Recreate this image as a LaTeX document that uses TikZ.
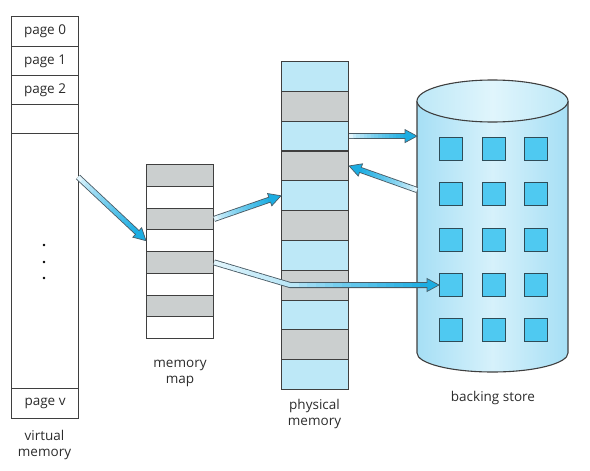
\documentclass[tikz,border=0pt]{standalone}
\usepackage{fontspec}
\setmainfont{Open Sans}
\usetikzlibrary{calc}
\definecolor{cellgray}{HTML}{CBCFCF}
\definecolor{cellblue}{HTML}{BDE8F7}
\definecolor{edge}{HTML}{3F3F3F}
\definecolor{txt}{HTML}{2B2B2B}
\definecolor{arrowline}{HTML}{4A5C66}
\definecolor{arrowblue}{HTML}{1CADE2}
\definecolor{arrowpale}{HTML}{E2F5FC}
\definecolor{cylA}{HTML}{A6DFF5}
\definecolor{cylB}{HTML}{D6F1FB}
\definecolor{cyltopA}{HTML}{BDE8F7}
\definecolor{cyltopB}{HTML}{E0F5FC}
\definecolor{sqfill}{HTML}{4FC9F1}
\definecolor{sqedge}{HTML}{2E4C58}
\newcommand\fatbody[4]{%
  \foreach \i in {0,...,15}{%
    \pgfmathsetmacro\ta{\i/16}%
    \pgfmathsetmacro\tb{min(1,(\i+1.3)/16)}%
    \pgfmathtruncatemacro\pc{#3+(#4-#3)*(\i/15)^0.75}%
    \draw[line width=4.2pt, arrowblue!\pc!arrowpale] ($(#1)!\ta!(#2)$) -- ($(#1)!\tb!(#2)$);
  }}
\newcommand\fathead[2]{% #1 head base, #2 tip
  \draw[fill=arrowblue, draw=arrowline, line width=0.7pt, line join=miter]
    (#2) -- ($(#1)!6.5pt!90:(#2)$) -- ($(#1)!6.5pt!-90:(#2)$) -- cycle;}
\newcommand\fatarrow[3]{% #1 from, #2 tip, #3 start pct
  \path ($(#2)!12pt!(#1)$) coordinate (hb) ($(#2)!10pt!(#1)$) coordinate (be);
  \draw[line width=6pt, arrowline] (#1) -- (hb);
  \fathead{hb}{#2}
  \fatbody{#1}{be}{#3}{100}}
\begin{document}
\begin{tikzpicture}[x=1pt,y=-1pt,
  every node/.style={text=txt},
  cell/.style={draw=edge, line width=1.1pt, minimum width=67pt, inner sep=0pt,
    anchor=north west, font=\fontsize{13.5}{15}\selectfont},
  vmcell/.style={cell, fill=white},
  graycell/.style={cell, fill=cellgray},
  whitecell/.style={cell, fill=white},
  bluecell/.style={cell, fill=cellblue},
  label/.style={font=\fontsize{13.5}{16}\selectfont, align=center, inner sep=0pt},
  sq/.style={draw=sqedge, line width=1pt, fill=sqfill, minimum size=23pt, inner sep=0pt, anchor=north west},
  dot/.style={circle, fill=black, minimum size=2.8pt, inner sep=0pt}]
\useasboundingbox (0,0) rectangle (590,471);
% virtual memory
\node[vmcell, minimum height=30pt] (vm0) at (11,16) {page 0};
\node[vmcell, minimum height=29pt] (vm1) at (11,46) {page 1};
\node[vmcell, minimum height=29pt] (vm2) at (11,75) {page 2};
\node[vmcell, minimum height=29pt] (vm3) at (11,104) {};
\node[vmcell, minimum height=255pt] (vmbody) at (11,133) {};
\node[vmcell, minimum height=30pt] (vmv) at (11,388) {page v};
\node[dot] (d1) at (44,245) {};
\node[dot] (d2) at (44,262) {};
\node[dot] (d3) at (44,278) {};
\node[label] (vmlab) at (44.5,445) {virtual\\memory};
% memory map
\foreach \k in {1,...,8}{
  \pgfmathsetmacro\yy{164+(\k-1)*21.75}
  \ifodd\k
    \node[graycell, minimum height=21.75pt] (mm\k) at (146,\yy) {};
  \else
    \node[whitecell, minimum height=21.75pt] (mm\k) at (146,\yy) {};
  \fi
}
\node[label] (mmlab) at (180,373) {memory\\map};
% physical memory
\foreach \k in {1,...,11}{
  \pgfmathsetmacro\yy{61+(\k-1)*29.82}
  \ifodd\k
    \node[bluecell, minimum height=29.82pt] (pm\k) at (281,\yy) {};
  \else
    \node[graycell, minimum height=29.82pt] (pm\k) at (281,\yy) {};
  \fi
}
\node[label] (pmlab) at (314.5,414) {physical\\memory};
% backing store
\node[minimum width=151pt, minimum height=252pt, inner sep=0pt, anchor=north west] (store) at (417,101) {};
\path[left color=cylA, right color=cylA, middle color=cylB]
  (417,101) -- (417,353) arc[start angle=180, end angle=360, x radius=75.5pt, y radius=19pt] -- (568,101) -- cycle;
\draw[edge, line width=1.1pt] (417,101) -- (417,353) arc[start angle=180, end angle=360, x radius=75.5pt, y radius=19pt] -- (568,101);
\draw[edge, line width=1.1pt, left color=cyltopA, right color=cyltopA, middle color=cyltopB]
  (492.5,101) ellipse [x radius=75.5pt, y radius=21pt];
\foreach \r/\ry in {1/137,2/182,3/228,4/273,5/318}{
  \foreach \c/\cx in {1/439,2/482,3/524}{
    \node[sq] (sq\r\c) at (\cx,\ry) {};
  }
}
\node[label] (bslab) at (493,398) {backing store};
% arrows
\coordinate (a1s) at (78,177);
\coordinate (a4s) at (417,190);
\coordinate (a3t) at (pm3.east -| store.west);
\coordinate (bend) at ($(sq41.west)+(-149,0)$);
\fatarrow{a1s}{mm4.west}{0}
\fatarrow{mm3.east}{pm5.west}{0}
\fatarrow{pm3.east}{a3t}{0}
\fatarrow{a4s}{pm4.east}{0}
% bent arrow
\path ($(sq41.west)!12pt!(bend)$) coordinate (hb5) ($(sq41.west)!10pt!(bend)$) coordinate (be5);
\draw[line width=6pt, arrowline, line join=miter] (mm5.east) -- (bend) -- (hb5);
\fathead{hb5}{sq41.west}
\fatbody{mm5.east}{bend}{0}{20}
\fatbody{bend}{be5}{20}{100}
\fill[arrowblue!20!arrowpale] (bend) circle[radius=2.1pt];
\end{tikzpicture}
\end{document}
